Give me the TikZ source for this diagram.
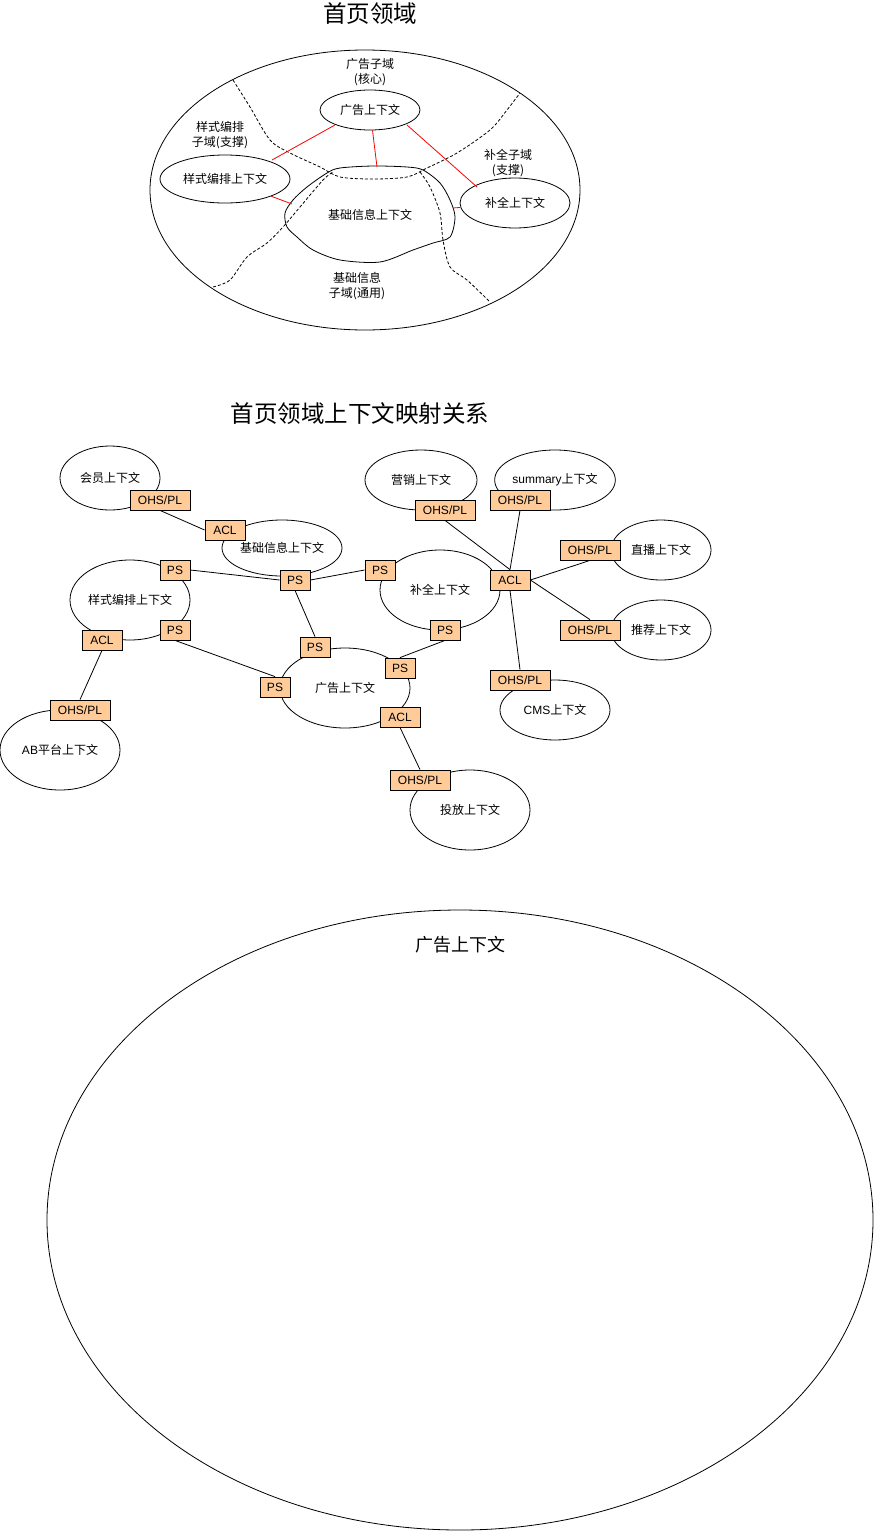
\documentclass[tikz,border=0pt]{standalone}
\usepackage{fontspec}
\setmainfont{Noto Sans CJK SC}
\newfontfamily\lat{Liberation Sans}
\usetikzlibrary{shapes.geometric}
\definecolor{boxfill}{HTML}{FFCC99}
\begin{document}
\begin{tikzpicture}[x=1pt,y=-1pt,
  ctx/.style={draw, ellipse, line width=0.8pt, inner sep=0pt, font=\fontsize{12}{14}\selectfont},
  lbl/.style={align=center, inner sep=0pt, font=\fontsize{12}{15}\selectfont},
  tbox/.style={draw, fill=boxfill, line width=0.8pt, inner sep=0pt, minimum height=20, font=\lat\fontsize{12}{14}\selectfont},
  ohs/.style={tbox, minimum width=60},
  acl/.style={tbox, minimum width=40},
  psb/.style={tbox, minimum width=30},
  conn/.style={line width=0.8pt},
  redl/.style={draw=red, line width=0.8pt},
  dsh/.style={line width=0.8pt, dash pattern=on 3pt off 2pt},
  ttl/.style={inner sep=0pt, font=\fontsize{23.5}{26}\selectfont}
]
\useasboundingbox (0,0) rectangle (875,1531);

% ---------- top section ----------
\node[ttl] (t1) at (370,14) {首页领域};
\node[ctx, minimum width=430, minimum height=280] (dom) at (365,190) {};

\draw[dsh] plot[smooth] coordinates {(233,80) (250,107) (270,140) (290,153) (320,167) (340,177) (373,179) (407,177) (427,168) (457,153) (490,130) (507,110) (520,93)};
\draw[dsh] plot[smooth] coordinates {(213,287) (230,280) (247,257) (267,243) (283,227) (300,207) (323,180) (333,172)};
\draw[dsh] plot[smooth] coordinates {(420,172) (430,187) (440,213) (443,240) (450,267) (467,280) (490,302)};

\draw[line width=0.8pt] plot[smooth cycle] coordinates {(340,168) (373,166) (407,167) (423,170) (440,183) (450,200) (455,217) (450,237) (433,243) (413,250) (380,262) (340,260) (313,250) (297,237) (287,227) (285,213) (293,200) (307,187) (327,173)};
\node[lbl] (basetxt) at (370,215) {基础信息上下文};
\coordinate (cloudtop) at (377,167);
\coordinate (cloudleft) at (292,204);
\coordinate (cloudright) at (453,208);

\node[lbl] (sub1) at (370,72) {广告子域\\(核心)};
\node[lbl] (sub2) at (220,135) {样式编排\\子域(支撑)};
\node[lbl] (sub3) at (508,163) {补全子域\\(支撑)};
\node[lbl] (sub4) at (357,286) {基础信息\\子域(通用)};

\node[ctx, minimum width=100, minimum height=40] (ad) at (370,110) {广告上下文};
\node[ctx, minimum width=130, minimum height=48] (sty) at (225,179) {样式编排上下文};
\node[ctx, minimum width=110, minimum height=50] (cmp) at (515,203) {补全上下文};
\coordinate (cmpin) at (477,187);
\coordinate (adout) at (407,125);
\coordinate (adleft) at (335,125);
\coordinate (styin) at (272,160);

\draw[redl] (adleft) -- (styin);
\draw[redl] (ad) -- (cloudtop);
\draw[redl] (adout) -- (cmpin);
\draw[redl] (sty) -- (cloudleft);
\draw[redl] (cmp) -- (cloudright);

% ---------- middle section ----------
\node[ttl] (t2) at (360,414) {首页领域上下文映射关系};

\node[ctx, minimum width=100, minimum height=64] (mem) at (110,478) {会员上下文};
\node[ctx, minimum width=120, minimum height=56] (base) at (282,548) {基础信息上下文};
\node[ctx, minimum width=120, minimum height=80] (msty) at (130,600) {样式编排上下文};
\node[ctx, minimum width=120, minimum height=80] (ab) at (60,750) {{\lat AB}平台上下文};
\node[ctx, minimum width=130, minimum height=80] (mad) at (345,688) {广告上下文};
\node[ctx, minimum width=112, minimum height=60] (mkt) at (421,480) {营销上下文};
\node[ctx, minimum width=110, minimum height=60] (sum) at (555,480) {{\lat summary}上下文};
\node[ctx, minimum width=100, minimum height=60] (live) at (661,550) {直播上下文};
\node[ctx, minimum width=120, minimum height=80] (mcmp) at (440,590) {补全上下文};
\node[ctx, minimum width=100, minimum height=60] (rec) at (661,630) {推荐上下文};
\node[ctx, minimum width=110, minimum height=60] (cms) at (555,710) {{\lat CMS}上下文};
\node[ctx, minimum width=120, minimum height=80] (put) at (470,810) {投放上下文};

\node[ohs] (o1) at (160,500) {OHS/PL};
\node[acl] (a1) at (225,530) {ACL};
\node[psb] (p1) at (295,580) {PS};
\node[psb] (p2) at (175,570) {PS};
\node[psb] (p3) at (175,630) {PS};
\node[acl] (a2) at (102,640) {ACL};
\node[ohs] (o2) at (80,710) {OHS/PL};
\node[psb] (p4) at (275,687) {PS};
\node[psb] (p5) at (315,647) {PS};
\node[psb] (p6) at (380,570) {PS};
\node[psb] (p7) at (445,630) {PS};
\node[psb] (p8) at (400,668) {PS};
\node[acl] (a3) at (400,717) {ACL};
\node[ohs] (o3) at (420,780) {OHS/PL};
\node[ohs] (o4) at (445,510) {OHS/PL};
\node[ohs] (o5) at (520,500) {OHS/PL};
\node[acl] (a4) at (510,580) {ACL};
\node[ohs] (o6) at (590,550) {OHS/PL};
\node[ohs] (o7) at (590,630) {OHS/PL};
\node[ohs] (o8) at (520,680) {OHS/PL};

\draw[conn] (o1.south) -- (a1.west);
\draw[conn] (p2.east) -- (p1.west);
\draw[conn] (p1.east) -- (p6.west);
\draw[conn] (p1.south) -- (p5.north);
\draw[conn] (p3.south) -- (p4.north);
\draw[conn] (a2.south) -- (o2.north);
\draw[conn] (p7.south) -- (p8.north);
\draw[conn] (a3.south) -- (o3.north);
\draw[conn] (o4.south) -- (a4.north);
\draw[conn] (o5.south) -- (a4.north);
\draw[conn] (a4.east) -- (o6.south);
\draw[conn] (a4.east) -- (o7.north);
\draw[conn] (a4.south) -- (o8.north);

% ---------- bottom section ----------
\node[ctx, minimum width=826, minimum height=620] (big) at (460,1220) {};
\node[inner sep=0pt, font=\fontsize{18}{20}\selectfont] (bigtxt) at (460,945) {广告上下文};
\end{tikzpicture}
\end{document}
